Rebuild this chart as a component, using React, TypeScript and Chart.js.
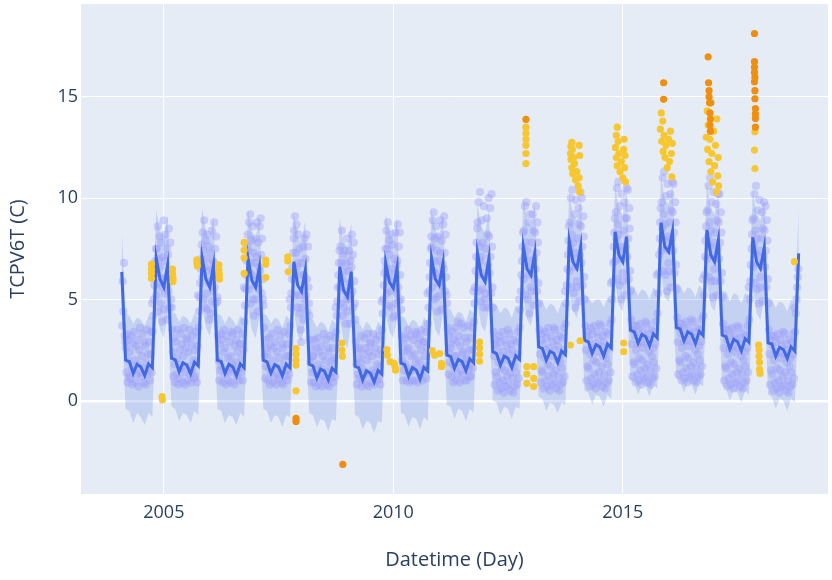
import { useEffect, useRef } from 'react';
import { Chart, registerables } from 'chart.js';

Chart.register(...registerables);

// ---- axes ----
const xTickYears = [2005, 2010, 2015];
const yTickValues = [0, 5, 10, 15];
const xMin = 2003.195;
const xMax = 2019.47;
const yMin = -4.6;
const yMax = 19.57;
const firstMonth = 2004 + 1 / 12; // Feb 2004, monthly forecast steps

// ---- forecast (monthly, Feb 2004 .. Nov 2018) ----
const yhat = [
  6.36, 2.01, 1.93, 1.35, 1.80, 1.67, 1.24, 1.82, 1.64, 7.05, 6.00,
  5.60, 6.70, 2.10, 2.02, 1.43, 1.88, 1.76, 1.33, 1.90, 1.72, 7.07, 6.00,
  5.60, 6.70, 2.00, 1.93, 1.35, 1.80, 1.68, 1.24, 1.82, 1.63, 7.06, 5.95,
  5.60, 6.60, 2.00, 1.92, 1.36, 1.78, 1.67, 1.23, 1.80, 1.62, 6.86, 5.70,
  5.40, 6.45, 1.80, 1.72, 1.12, 1.56, 1.46, 1.02, 1.60, 1.42, 6.61, 5.45,
  5.13, 6.37, 1.70, 1.62, 1.03, 1.48, 1.36, 0.92, 1.50, 1.32, 6.81, 5.85,
  5.55, 6.58, 1.85, 1.78, 1.20, 1.63, 1.52, 1.07, 1.65, 1.47, 7.06, 6.00,
  5.71, 6.78, 2.26, 2.18, 1.60, 2.04, 1.93, 1.48, 2.06, 1.88, 7.30, 6.20,
  5.87, 7.02, 2.42, 2.33, 1.75, 2.20, 2.09, 1.64, 2.22, 2.04, 7.60, 6.50,
  6.20, 7.27, 2.66, 2.57, 2.00, 2.44, 2.33, 1.88, 2.46, 2.28, 7.89, 6.85,
  6.53, 7.60, 2.99, 2.91, 2.34, 2.77, 2.66, 2.21, 2.80, 2.61, 8.34, 7.19,
  6.86, 8.09, 3.49, 3.40, 2.84, 3.27, 3.16, 2.71, 3.30, 3.10, 8.78, 7.60,
  7.35, 8.34, 3.62, 3.55, 2.96, 3.40, 3.28, 2.82, 3.42, 3.22, 8.42, 7.20,
  6.86, 7.93, 3.24, 3.16, 2.55, 3.03, 2.91, 2.46, 3.06, 2.88, 8.06, 6.85,
  6.53, 7.57, 2.86, 2.80, 2.20, 2.63, 2.53, 2.09, 2.66, 2.45, 7.27,
];

const yhatUpper = [
  8.5, 4.3, 4.2, 3.8, 4.1, 4.0, 3.7, 4.2, 4.0, 9.4, 8.4,
  8.0, 9.2, 4.4, 4.3, 3.9, 4.2, 4.1, 3.8, 4.3, 4.1, 9.5, 8.4,
  8.0, 9.1, 4.3, 4.2, 3.8, 4.2, 4.0, 3.7, 4.2, 4.0, 9.4, 8.4,
  8.0, 9.0, 4.3, 4.2, 3.8, 4.1, 4.0, 3.6, 4.2, 4.0, 9.3, 8.1,
  7.8, 8.9, 4.1, 4.0, 3.6, 3.9, 3.8, 3.4, 4.0, 3.8, 9.0, 7.9,
  7.6, 8.8, 4.0, 3.9, 3.5, 3.9, 3.7, 3.3, 3.9, 3.7, 9.2, 8.3,
  8.0, 9.0, 4.2, 4.1, 3.7, 4.0, 3.9, 3.5, 4.1, 3.9, 9.5, 8.4,
  8.1, 9.2, 4.6, 4.5, 4.1, 4.4, 4.3, 3.9, 4.5, 4.3, 9.7, 8.6,
  8.3, 9.4, 4.8, 4.7, 4.3, 4.6, 4.5, 4.1, 4.7, 4.5, 10.0, 8.9,
  8.6, 9.7, 5.0, 4.9, 4.5, 4.8, 4.7, 4.3, 4.9, 4.7, 10.3, 9.2,
  8.9, 10.0, 5.2, 5.1, 4.8, 5.0, 5.0, 4.6, 5.1, 5.0, 10.7, 9.5,
  9.2, 10.4, 5.7, 5.6, 5.2, 5.5, 5.4, 5.0, 5.6, 5.4, 11.1, 9.9,
  9.7, 10.7, 5.8, 5.7, 5.3, 5.6, 5.5, 5.1, 5.7, 5.5, 10.8, 9.5,
  9.2, 10.3, 5.4, 5.4, 4.9, 5.3, 5.2, 4.8, 5.3, 5.2, 10.4, 9.2,
  8.9, 9.9, 5.1, 5.0, 4.6, 4.9, 4.8, 4.4, 5.0, 4.8, 9.5,
];

const yhatLower = [
  4.0, -0.4, -0.5, -1.1, -0.6, -0.8, -1.2, -0.6, -0.8, 4.6, 3.5,
  3.1, 4.3, -0.3, -0.4, -1.0, -0.6, -0.7, -1.1, -0.5, -0.7, 4.6, 3.6,
  3.2, 4.2, -0.4, -0.5, -1.1, -0.7, -0.8, -1.2, -0.6, -0.8, 4.6, 3.5,
  3.1, 4.1, -0.4, -0.5, -1.1, -0.7, -0.8, -1.3, -0.7, -0.8, 4.4, 3.2,
  2.9, 4.0, -0.6, -0.7, -1.3, -0.9, -1.0, -1.5, -0.9, -1.0, 4.1, 3.0,
  2.6, 3.9, -0.7, -0.8, -1.4, -1.0, -1.1, -1.6, -1.0, -1.1, 4.3, 3.4,
  3.1, 4.1, -0.6, -0.7, -1.3, -0.8, -0.9, -1.4, -0.8, -1.0, 4.6, 3.5,
  3.2, 4.3, -0.2, -0.3, -0.9, -0.4, -0.5, -1.0, -0.4, -0.6, 4.8, 3.7,
  3.4, 4.5, 0.0, -0.1, -0.7, -0.3, -0.4, -0.9, -0.3, -0.4, 5.1, 4.0,
  3.7, 4.8, 0.2, 0.1, -0.5, -0.1, -0.2, -0.6, -0.1, -0.2, 5.4, 4.4,
  4.1, 5.1, 0.5, 0.4, -0.2, 0.3, 0.2, -0.3, 0.3, 0.1, 5.9, 4.7,
  4.4, 5.6, 1.0, 0.9, 0.3, 0.8, 0.7, 0.2, 0.8, 0.6, 6.3, 5.1,
  4.9, 5.8, 1.1, 1.0, 0.4, 0.9, 0.8, 0.3, 0.9, 0.7, 5.9, 4.7,
  4.4, 5.4, 0.7, 0.6, 0.0, 0.5, 0.4, -0.1, 0.5, 0.3, 5.6, 4.3,
  4.0, 5.1, 0.3, 0.2, -0.4, 0.1, 0.0, -0.5, 0.1, -0.1, 4.8,
];

// ---- observed daily values, grouped by month ----
const obs2004 = [
  [3.7, 5.9, 4.4, 6.8, 3.2, 2.9],
  [2.6, 1.4, 3.3, 0.9, 2.0, 3.0, 1.2],
  [2.4, 1.1, 3.2, 1.7, 0.8, 2.8],
  [1.5, 3.4, 2.0, 0.9, 2.7, 1.3],
  [3.0, 1.8, 0.7, 2.5, 3.6, 1.4],
  [1.2, 2.2, 3.3, 1.6, 0.9, 2.9],
  [2.7, 0.8, 1.9, 3.5, 1.3, 2.3],
  [1.6, 2.9, 1.0, 2.3, 3.4, 1.4, 4.8],
  [3.4, 4.2, 5.0, 5.7, 6.3, 6.9, 7.5],
  [5.2, 7.5, 6.3, 8.6, 4.4, 7.0, 5.8, 8.1],
  [6.6, 4.8, 7.8, 5.6, 3.9, 7.1, 6.0, 8.9],
];
const obs2005 = [
  [4.5, 6.9, 5.3, 8.2, 6.1, 4.0, 7.5, 5.7],
  [7.2, 5.4, 8.5, 6.4, 4.6, 7.8, 6.0, 5.0],
  [4.6, 3.5, 2.4, 1.2, 3.1, 1.8, 0.9],
  [2.9, 1.3, 2.1, 3.5, 0.8, 1.8],
  [1.1, 2.5, 3.3, 1.6, 2.8, 0.9],
  [2.2, 3.6, 1.4, 0.8, 2.6, 3.0],
  [3.1, 1.0, 2.4, 1.7, 3.5, 1.3],
  [0.9, 2.8, 1.5, 3.2, 2.0, 1.1],
  [2.5, 1.2, 3.4, 1.9, 0.9, 2.7, 5.2],
  [3.6, 4.4, 5.1, 5.8, 6.5, 7.0, 7.7],
  [6.1, 8.3, 5.0, 7.4, 8.9, 6.6, 4.6, 7.9],
  [7.0, 5.3, 8.2, 4.5, 6.4, 7.6, 5.8, 4.0],
];
const obs2006 = [
  [5.9, 4.3, 7.3, 6.5, 8.4, 4.9, 6.9, 5.4],
  [6.8, 8.8, 5.6, 7.5, 4.8, 8.1, 6.2, 5.1],
  [4.9, 3.2, 2.0, 1.0, 2.8, 1.5, 3.3],
  [1.7, 3.0, 0.9, 2.4, 3.5, 1.3],
  [2.6, 0.8, 3.2, 1.5, 2.1, 1.0],
  [1.4, 2.9, 2.2, 0.9, 3.4, 1.8],
  [3.3, 1.5, 0.8, 2.7, 1.9, 3.0],
  [1.2, 2.4, 3.5, 1.0, 2.8, 1.6],
  [2.8, 1.4, 2.1, 3.3, 1.0, 2.5, 5.6],
  [3.9, 4.7, 5.5, 6.2, 6.9, 7.6, 8.2],
  [7.4, 5.5, 8.8, 6.3, 9.2, 4.8, 7.9, 6.8],
  [6.2, 8.6, 5.0, 7.3, 4.2, 8.0, 5.7, 6.8],
];
const obs2007 = [
  [5.0, 7.1, 8.8, 6.0, 4.4, 7.8, 5.5, 6.6],
  [8.6, 6.4, 9.0, 7.2, 5.3, 8.0, 6.0, 5.0],
  [4.7, 3.6, 2.2, 1.1, 3.0, 1.7, 2.6],
  [2.3, 1.0, 3.1, 1.6, 0.8, 2.7],
  [1.4, 3.3, 2.0, 0.9, 2.6, 1.2],
  [2.9, 1.7, 0.8, 2.4, 3.5, 1.3],
  [1.1, 2.1, 3.2, 1.5, 0.9, 2.8],
  [2.6, 0.8, 1.8, 3.4, 1.2, 2.2],
  [1.5, 2.8, 1.0, 2.2, 3.3, 1.3, 5.0],
  [3.7, 4.6, 5.3, 6.0, 6.6, 7.3, 8.0],
  [8.4, 6.0, 9.1, 5.2, 7.3, 8.7, 6.6, 4.6],
  [6.8, 8.2, 5.2, 7.5, 4.3, 6.2, 3.5, 2.9],
];
const obs2008 = [
  [4.6, 6.8, 5.4, 7.6, 4.0, 6.2, 8.0, 5.0],
  [7.0, 5.2, 8.2, 6.0, 4.4, 7.6, 5.6, 4.8],
  [4.2, 3.0, 1.9, 0.9, 2.6, 1.4, 2.2],
  [2.2, 0.9, 3.0, 1.5, 0.7, 2.6],
  [1.3, 3.1, 1.8, 0.8, 2.4, 1.1],
  [2.7, 1.6, 0.7, 2.2, 3.3, 1.2],
  [1.0, 2.0, 3.0, 1.4, 0.8, 2.6],
  [2.4, 0.7, 1.7, 3.2, 1.1, 2.0],
  [1.4, 2.6, 0.9, 2.1, 3.1, 1.2, 4.6],
  [3.4, 4.2, 4.9, 5.6, 6.2, 6.8, 7.4],
  [5.6, 7.6, 4.8, 6.8, 8.4, 6.0, 4.2, 7.2],
  [6.4, 4.6, 7.4, 5.4, 3.8, 6.8, 5.0, 8.0],
];
const obs2009 = [
  [4.4, 6.4, 5.0, 7.4, 5.8, 3.8, 6.9, 5.2],
  [6.6, 8.2, 5.4, 7.2, 4.6, 7.8, 5.9, 4.8],
  [4.0, 2.9, 1.8, 0.8, 2.5, 1.3, 2.1],
  [2.6, 1.1, 1.9, 3.2, 0.7, 1.6],
  [1.0, 2.3, 3.1, 1.4, 2.6, 0.8],
  [2.0, 3.3, 1.3, 0.7, 2.4, 2.8],
  [2.9, 0.9, 2.2, 1.5, 3.3, 1.2],
  [0.8, 2.6, 1.4, 3.0, 1.8, 1.0],
  [2.3, 1.1, 3.2, 1.7, 0.8, 2.5, 4.9],
  [3.5, 4.3, 5.0, 5.7, 6.3, 6.9, 7.5],
  [6.6, 8.4, 5.3, 7.5, 8.8, 6.1, 4.7, 7.9],
  [7.2, 5.4, 8.2, 4.6, 6.5, 7.7, 5.9, 4.1],
];
const obs2010 = [
  [5.7, 4.2, 7.0, 6.3, 8.3, 4.8, 6.7, 5.3],
  [6.9, 8.7, 5.6, 7.6, 4.9, 8.3, 6.2, 5.0],
  [4.5, 3.2, 2.0, 1.0, 2.8, 1.5, 2.4],
  [1.8, 3.1, 1.0, 2.5, 3.5, 1.4],
  [2.6, 0.9, 3.2, 1.6, 2.2, 1.0],
  [1.5, 3.0, 2.3, 1.0, 3.4, 1.9],
  [3.3, 1.6, 0.9, 2.8, 2.0, 3.1],
  [1.3, 2.5, 3.5, 1.0, 2.9, 1.7],
  [2.9, 1.5, 2.2, 3.4, 1.1, 2.6, 5.3],
  [3.8, 4.6, 5.4, 6.1, 6.8, 7.5, 8.1],
  [7.6, 5.6, 8.9, 6.4, 9.3, 5.0, 8.0, 6.9],
  [6.3, 8.6, 5.1, 7.4, 4.4, 8.1, 5.8, 6.9],
];
const obs2011 = [
  [5.2, 7.3, 8.9, 6.1, 4.5, 7.9, 5.6, 6.7],
  [8.7, 6.5, 9.1, 7.3, 5.4, 8.2, 6.1, 5.2],
  [4.8, 3.6, 2.4, 1.3, 3.2, 1.9, 2.8],
  [2.6, 1.2, 3.4, 1.8, 0.9, 3.0, 2.2],
  [1.6, 3.6, 2.2, 1.0, 2.9, 1.3, 3.9],
  [3.2, 1.9, 0.9, 2.7, 3.8, 1.5, 2.3],
  [1.3, 2.4, 3.6, 1.8, 1.0, 3.1, 2.0],
  [2.9, 1.0, 2.1, 3.7, 1.5, 2.5, 1.2],
  [1.8, 3.1, 1.2, 2.5, 3.6, 1.6, 5.4],
  [3.9, 4.8, 5.6, 6.4, 7.1, 7.8, 8.5],
  [8.8, 6.2, 9.8, 5.4, 7.6, 10.3, 6.9, 4.9],
  [7.1, 8.9, 5.5, 7.8, 4.6, 9.6, 6.3, 5.0],
];
const obs2012 = [
  [5.3, 7.5, 6.1, 9.0, 4.6, 8.2, 6.7, 10.0],
  [8.1, 6.3, 9.5, 7.1, 5.3, 10.2, 7.6, 5.6],
  [4.6, 3.4, 2.2, 0.8, 2.8, 1.4, 3.0],
  [1.2, 2.6, 0.5, 1.9, 3.2, 0.9, 2.2],
  [2.9, 0.6, 1.6, 3.4, 1.0, 2.4, 0.4],
  [1.5, 3.0, 2.0, 0.7, 2.7, 1.2, 3.5],
  [0.8, 2.3, 3.3, 1.4, 0.5, 2.8, 1.8],
  [2.5, 1.1, 0.4, 3.0, 1.7, 0.7, 2.1],
  [1.4, 2.9, 0.8, 2.3, 3.4, 1.1, 5.0],
  [3.6, 4.5, 5.4, 6.2, 6.9, 7.6, 8.3],
  [6.0, 8.4, 7.1, 9.6, 5.2, 7.8, 9.8, 6.6],
  [7.4, 5.0, 8.8, 6.2, 4.3, 9.2, 6.9, 5.6],
];
const obs2013 = [
  [5.4, 7.8, 6.3, 9.2, 4.7, 8.4, 7.0, 6.0],
  [8.3, 6.5, 9.6, 7.3, 5.4, 8.8, 7.8, 5.8],
  [4.8, 3.5, 2.3, 0.9, 3.0, 1.5, 3.3],
  [1.4, 2.8, 0.6, 2.1, 3.4, 1.0, 2.5],
  [3.1, 0.7, 1.8, 3.6, 1.2, 2.6, 0.5],
  [1.7, 3.2, 2.2, 0.8, 2.9, 1.3, 3.6],
  [0.9, 2.5, 3.5, 1.5, 0.6, 3.0, 2.0],
  [2.7, 1.2, 0.5, 3.2, 1.9, 0.8, 2.3],
  [1.6, 3.1, 0.9, 2.5, 3.6, 1.2, 5.4],
  [3.8, 4.8, 5.7, 6.5, 7.2, 7.9, 8.6],
  [6.4, 8.8, 7.5, 10.0, 5.6, 8.2, 10.4, 7.0],
  [7.8, 5.3, 9.2, 6.6, 4.6, 9.9, 7.3, 5.9],
];
const obs2014 = [
  [5.6, 8.0, 6.6, 9.5, 4.9, 8.7, 7.2, 10.3],
  [8.6, 6.8, 10.0, 7.6, 5.7, 9.1, 8.1, 6.1],
  [5.0, 3.7, 2.5, 1.0, 3.2, 1.7, 3.4],
  [1.6, 3.0, 0.7, 2.3, 3.6, 1.1, 2.6],
  [3.3, 0.8, 2.0, 3.7, 1.3, 2.8, 0.6],
  [1.9, 3.4, 2.4, 0.9, 3.1, 1.4, 3.8],
  [1.0, 2.7, 3.7, 1.7, 0.7, 3.2, 2.2],
  [2.9, 1.3, 0.6, 3.4, 2.1, 0.9, 2.5],
  [1.8, 3.3, 1.0, 2.7, 3.8, 1.4, 5.8],
  [4.0, 5.0, 5.9, 6.8, 7.6, 8.3, 9.0],
  [6.9, 9.3, 8.0, 10.5, 6.0, 8.7, 10.8, 7.4],
  [8.2, 5.7, 9.6, 7.0, 5.0, 10.2, 7.6, 6.3],
];
const obs2015 = [
  [5.9, 8.4, 7.0, 9.8, 5.2, 9.0, 7.6, 10.5],
  [9.0, 7.1, 10.4, 8.0, 6.0, 9.5, 8.5, 6.4],
  [5.4, 4.0, 2.8, 1.2, 3.5, 1.9, 3.7],
  [1.8, 3.2, 0.9, 2.5, 3.7, 1.3, 2.8],
  [3.4, 1.0, 2.1, 3.8, 1.5, 2.9, 0.8],
  [2.0, 3.5, 2.6, 1.1, 3.2, 1.6, 3.9],
  [1.2, 2.8, 3.8, 1.8, 0.9, 3.3, 2.4],
  [3.0, 1.5, 0.8, 3.5, 2.2, 1.1, 2.6],
  [1.9, 3.4, 1.2, 2.8, 3.9, 1.6, 6.2],
  [4.3, 5.3, 6.3, 7.2, 8.0, 8.8, 9.5],
  [7.4, 9.8, 8.5, 11.0, 6.4, 9.2, 11.3, 7.9],
  [8.7, 6.2, 10.1, 7.5, 5.4, 10.7, 8.1, 6.8],
];
const obs2016 = [
  [6.4, 8.8, 7.4, 10.2, 5.6, 9.4, 8.0, 10.8],
  [9.3, 7.4, 10.7, 8.3, 6.3, 9.8, 8.8, 6.7],
  [5.5, 4.1, 2.9, 1.3, 3.6, 2.0, 3.8],
  [1.9, 3.3, 1.0, 2.6, 3.8, 1.4, 2.9],
  [3.5, 1.1, 2.2, 3.9, 1.6, 3.0, 0.9],
  [2.1, 3.6, 2.7, 1.2, 3.3, 1.7, 4.0],
  [1.3, 2.9, 3.9, 1.9, 1.0, 3.4, 2.5],
  [3.1, 1.6, 0.9, 3.6, 2.3, 1.2, 2.7],
  [2.0, 3.5, 1.3, 2.9, 4.0, 1.7, 6.0],
  [4.2, 5.2, 6.2, 7.1, 7.9, 8.6, 9.3],
  [7.0, 9.4, 8.1, 10.6, 6.1, 8.8, 11.0, 7.6],
  [8.4, 5.9, 9.8, 7.2, 5.1, 10.3, 7.8, 6.5],
];
const obs2017 = [
  [5.9, 8.3, 7.0, 9.7, 5.2, 8.9, 7.5, 10.2],
  [8.8, 7.0, 10.2, 7.8, 5.9, 9.3, 8.3, 6.3],
  [5.1, 3.8, 2.6, 1.0, 3.3, 1.7, 3.5],
  [1.6, 3.0, 0.7, 2.3, 3.5, 1.1, 2.6],
  [3.2, 0.8, 1.9, 3.6, 1.3, 2.7, 0.6],
  [1.8, 3.3, 2.4, 0.9, 3.0, 1.4, 3.7],
  [1.0, 2.6, 3.6, 1.6, 0.7, 3.1, 2.2],
  [2.8, 1.3, 0.6, 3.3, 2.0, 0.9, 2.4],
  [1.7, 3.2, 1.0, 2.6, 3.7, 1.4, 5.6],
  [4.0, 5.0, 5.9, 6.7, 7.5, 8.2, 8.9],
  [6.6, 9.0, 7.7, 10.2, 5.8, 8.4, 10.6, 7.2],
  [8.0, 5.5, 9.4, 6.8, 4.8, 9.9, 7.4, 6.1],
];
const obs2018 = [
  [5.6, 8.0, 6.7, 9.3, 4.9, 8.5, 7.1, 9.8],
  [8.4, 6.6, 9.6, 7.4, 5.6, 8.9, 7.9, 6.0],
  [4.8, 3.5, 2.3, 0.8, 3.0, 1.5, 3.2],
  [1.3, 2.7, 0.5, 2.0, 3.2, 0.9, 2.3],
  [2.9, 0.6, 1.6, 3.3, 1.0, 2.4, 0.4],
  [1.5, 3.0, 2.1, 0.7, 2.7, 1.2, 3.4],
  [0.8, 2.3, 3.3, 1.4, 0.5, 2.8, 1.9],
  [2.5, 1.0, 0.4, 3.0, 1.7, 0.7, 2.1],
  [1.4, 2.9, 0.8, 2.3, 3.3, 1.1, 4.6],
  [3.4, 4.3, 5.0, 5.6, 6.1, 6.5],
  [],
];

// ---- anomalies: [decimal year, value] ----
const minorAnomalies: [number, number][] = [
  [2004.73, 6.74], [2004.73, 6.48], [2004.73, 6.28], [2004.73, 6.04],
  [2004.96, 0.2], [2004.97, 0.05],
  [2005.19, 6.49], [2005.19, 6.26], [2005.2, 6.04], [2005.2, 5.88],
  [2005.72, 6.95], [2005.72, 6.8], [2005.73, 6.65],
  [2006.2, 6.7], [2006.2, 6.45], [2006.21, 6.22], [2006.21, 6.0],
  [2006.75, 7.81], [2006.75, 7.43], [2006.75, 7.05], [2006.75, 6.28],
  [2007.22, 6.94], [2007.22, 6.74], [2007.22, 6.08],
  [2007.7, 7.1], [2007.7, 6.9], [2007.71, 6.36],
  [2007.88, 2.58], [2007.88, 2.3], [2007.88, 2.0], [2007.88, 1.76], [2007.88, 0.49],
  [2008.88, 2.85], [2008.88, 2.5], [2008.89, 2.2],
  [2009.86, 2.53], [2009.87, 2.25], [2009.93, 1.93], [2010.02, 1.84], [2010.05, 1.51], [2010.04, 1.65],
  [2010.85, 2.47], [2010.9, 2.25], [2011.01, 2.33], [2011.05, 1.84], [2011.05, 1.68],
  [2011.88, 2.9], [2011.88, 2.62], [2011.88, 2.3], [2011.88, 1.95],
  [2012.89, 13.5], [2012.89, 13.2], [2012.89, 12.9], [2012.89, 12.6], [2012.89, 12.2], [2012.89, 11.7],
  [2012.91, 1.68], [2012.91, 1.32], [2012.91, 0.86], [2013.06, 1.68], [2013.06, 1.1], [2013.06, 0.7],
  [2013.86, 12.2], [2013.87, 12.55], [2013.87, 11.9], [2013.89, 12.75], [2013.89, 11.5], [2013.9, 12.4],
  [2013.91, 11.2], [2013.93, 12.0], [2013.95, 11.7], [2013.97, 10.9], [2014.0, 11.3], [2014.03, 10.6],
  [2014.05, 12.6], [2014.05, 11.0], [2014.06, 10.3], [2014.06, 12.1],
  [2013.86, 2.75], [2014.07, 2.96],
  [2014.84, 12.5], [2014.86, 13.1], [2014.86, 12.0], [2014.88, 13.5], [2014.88, 11.6], [2014.9, 12.8],
  [2014.92, 12.2], [2014.94, 11.3], [2014.97, 11.8], [2015.0, 11.0], [2015.02, 12.4], [2015.03, 12.9],
  [2015.04, 11.5], [2015.06, 10.8], [2015.05, 12.1],
  [2015.02, 2.85], [2015.02, 2.42],
  [2015.82, 13.4], [2015.84, 14.2], [2015.85, 12.8], [2015.87, 13.8], [2015.88, 12.3], [2015.9, 13.1],
  [2015.92, 12.0], [2015.94, 12.6], [2015.97, 11.5], [2016.0, 12.9], [2016.02, 11.8], [2016.04, 13.3],
  [2016.06, 12.2], [2016.07, 11.05], [2016.08, 12.7],
  [2016.82, 13.0], [2016.84, 14.3], [2016.85, 12.4], [2016.86, 13.6], [2016.88, 11.8], [2016.9, 12.9],
  [2016.92, 11.3], [2016.94, 12.2], [2016.96, 10.8], [2016.98, 13.3], [2017.0, 11.6], [2017.02, 12.6],
  [2017.04, 10.3], [2017.05, 13.9], [2017.07, 11.1], [2017.08, 12.0], [2017.09, 10.6],
  [2017.88, 13.27], [2017.87, 12.37], [2017.88, 11.46],
  [2017.96, 2.75], [2017.97, 2.5], [2017.97, 2.2], [2017.98, 1.9], [2017.98, 1.55], [2017.99, 1.35],
  [2018.74, 6.86],
];

const majorAnomalies: [number, number][] = [
  [2007.88, -0.87], [2007.88, -1.02], [2008.9, -3.14],
  [2012.89, 13.88],
  [2015.89, 15.69], [2015.89, 14.87],
  [2016.86, 16.97], [2016.87, 15.69], [2016.88, 15.3], [2016.88, 15.0], [2016.89, 14.7], [2016.92, 14.7],
  [2016.9, 14.2], [2016.91, 13.9], [2016.9, 13.6], [2016.91, 13.3],
  [2017.87, 18.12], [2017.87, 16.73], [2017.87, 16.45], [2017.87, 16.2], [2017.88, 15.95], [2017.87, 15.74],
  [2017.88, 15.3], [2017.88, 14.9], [2017.89, 14.42], [2017.89, 14.15], [2017.89, 13.93], [2017.89, 13.5],
];

const observedByMonth: number[][] = [
  ...obs2004, ...obs2005, ...obs2006, ...obs2007, ...obs2008,
  ...obs2009, ...obs2010, ...obs2011, ...obs2012, ...obs2013,
  ...obs2014, ...obs2015, ...obs2016, ...obs2017, ...obs2018,
];

const FONT = "'Open Sans', 'Noto Sans', sans-serif";
const TEXT = '#2a3f5f';

export default function App() {
  const ref = useRef<HTMLCanvasElement | null>(null);

  useEffect(() => {
    if (!ref.current) return;
    const monthX = (m: number) => firstMonth + m / 12;
    const linePts = yhat.map((v, i) => ({ x: monthX(i), y: v }));
    const upperPts = yhatUpper.map((v, i) => ({ x: monthX(i), y: v }));
    const lowerPts = yhatLower.map((v, i) => ({ x: monthX(i), y: v }));
    const obsPts: { x: number; y: number }[] = [];
    observedByMonth.forEach((vals, m) => {
      vals.forEach((v, j) => {
        obsPts.push({ x: monthX(m) + (j + 0.5) / vals.length / 12, y: v });
      });
    });

    const bgPlugin = {
      id: 'plotBg',
      beforeDraw(chart: any) {
        const { ctx, chartArea } = chart;
        ctx.save();
        ctx.fillStyle = '#E5ECF6';
        ctx.fillRect(chartArea.left, chartArea.top, chartArea.right - chartArea.left, chartArea.bottom - chartArea.top);
        ctx.restore();
      },
    };

    const chart = new Chart(ref.current, {
      type: 'line',
      data: {
        datasets: [
          {
            label: 'major',
            data: majorAnomalies.map(([x, y]) => ({ x, y })),
            showLine: false,
            pointRadius: 3.6,
            pointBackgroundColor: 'rgb(240,142,14)',
            pointBorderWidth: 0,
          },
          {
            label: 'minor',
            data: minorAnomalies.map(([x, y]) => ({ x, y })),
            showLine: false,
            pointRadius: 3.6,
            pointBackgroundColor: 'rgb(247,199,50)',
            pointBorderWidth: 0,
          },
          {
            label: 'yhat',
            data: linePts,
            borderColor: 'rgb(65,105,225)',
            borderWidth: 3,
            pointRadius: 0,
            tension: 0,
            fill: false,
          },
          {
            label: 'observed',
            data: obsPts,
            showLine: false,
            pointRadius: 4.1,
            pointBackgroundColor: 'rgba(155,158,250,0.42)',
            pointBorderWidth: 0,
          },
          {
            label: 'upper',
            data: upperPts,
            borderWidth: 0,
            pointRadius: 0,
            tension: 0,
            fill: '+1',
            backgroundColor: 'rgba(65,105,225,0.2)',
          },
          {
            label: 'lower',
            data: lowerPts,
            borderWidth: 0,
            pointRadius: 0,
            tension: 0,
            fill: false,
          },
        ] as any,
      },
      options: {
        animation: false,
        responsive: false,
        devicePixelRatio: 1,
        events: [],
        layout: { padding: { left: 0, right: 0, top: 4, bottom: 0 } },
        plugins: { legend: { display: false }, tooltip: { enabled: false } },
        scales: {
          x: {
            type: 'linear',
            min: xMin,
            max: xMax,
            afterBuildTicks: (axis: any) => {
              axis.ticks = xTickYears.map((v) => ({ value: v }));
            },
            afterFit: (axis: any) => {
              axis.height = 86;
              axis.paddingLeft = 0;
              axis.paddingRight = 0;
            },
            ticks: {
              autoSkip: false,
              maxRotation: 0,
              padding: 8,
              color: TEXT,
              font: { family: FONT, size: 18 },
              callback: (v: any) => String(v),
            },
            grid: { color: '#ffffff', lineWidth: 1, drawTicks: false },
            border: { display: false },
            title: {
              display: true,
              text: 'Datetime (Day)',
              color: TEXT,
              font: { family: FONT, size: 20 },
              padding: { top: 0, bottom: 8 },
            },
          },
          y: {
            type: 'linear',
            min: yMin,
            max: yMax,
            afterBuildTicks: (axis: any) => {
              axis.ticks = yTickValues.map((v) => ({ value: v }));
            },
            afterFit: (axis: any) => {
              axis.width = 81;
              axis.paddingTop = 0;
              axis.paddingBottom = 0;
            },
            ticks: {
              padding: 3,
              color: TEXT,
              font: { family: FONT, size: 18 },
              callback: (v: any) => String(v),
            },
            grid: {
              color: '#ffffff',
              lineWidth: (c: any) => (c.tick && c.tick.value === 0 ? 2.5 : 1),
              drawTicks: false,
            },
            border: { display: false },
            title: {
              display: true,
              text: 'TCPV6T (C)',
              color: TEXT,
              font: { family: FONT, size: 20 },
              padding: { top: 6, bottom: 0 },
            },
          },
        },
      } as any,
      plugins: [bgPlugin],
    });
    return () => chart.destroy();
  }, []);

  return (
    <div style={{ position: 'fixed', left: 0, top: 0, width: 832, height: 580, background: '#ffffff' }}>
      <canvas ref={ref} width={832} height={580} style={{ display: 'block', width: 832, height: 580 }} />
    </div>
  );
}
